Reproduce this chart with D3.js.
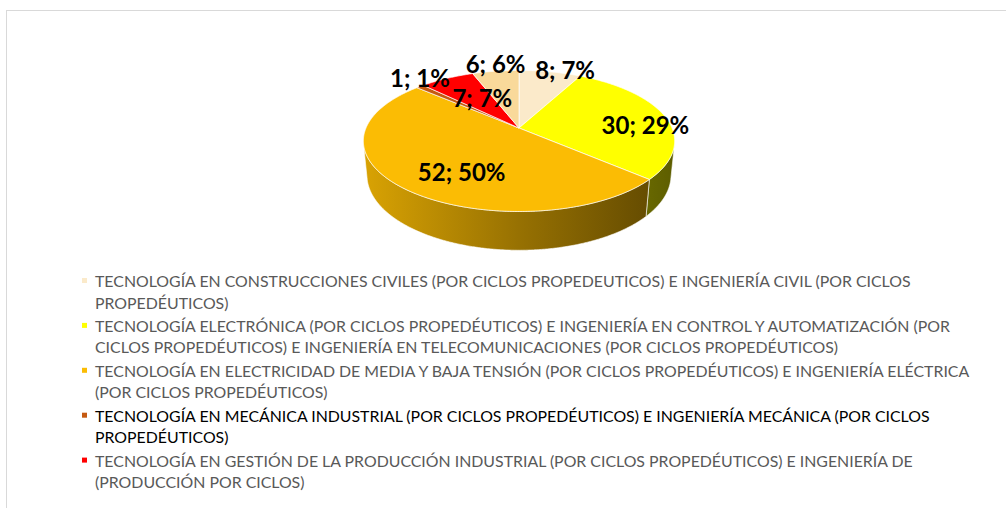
<!DOCTYPE html>
<html><head><meta charset="utf-8">
<script src="https://cdn.jsdelivr.net/npm/d3@7"></script>
<style>html,body{margin:0;padding:0;background:#fff;overflow:hidden}</style>
</head><body>
<svg id="chart" width="1006" height="508"></svg>
<script>
// ---------- DATA ----------
const categories = [
  ["TECNOLOGÍA EN CONSTRUCCIONES CIVILES (POR CICLOS PROPEDEUTICOS) E INGENIERÍA CIVIL (POR CICLOS", "PROPEDÉUTICOS)"],
  ["TECNOLOGÍA ELECTRÓNICA (POR CICLOS PROPEDÉUTICOS) E INGENIERÍA EN CONTROL Y AUTOMATIZACIÓN (POR", "CICLOS PROPEDÉUTICOS) E INGENIERÍA EN TELECOMUNICACIONES (POR CICLOS PROPEDÉUTICOS)"],
  ["TECNOLOGÍA EN ELECTRICIDAD DE MEDIA Y BAJA TENSIÓN (POR CICLOS PROPEDÉUTICOS) E INGENIERÍA ELÉCTRICA", "(POR CICLOS PROPEDÉUTICOS)"],
  ["TECNOLOGÍA EN MECÁNICA INDUSTRIAL (POR CICLOS PROPEDÉUTICOS) E INGENIERÍA MECÁNICA (POR CICLOS", "PROPEDÉUTICOS)"],
  ["TECNOLOGÍA EN GESTIÓN DE LA PRODUCCIÓN INDUSTRIAL (POR CICLOS PROPEDÉUTICOS) E INGENIERÍA DE", "(PRODUCCIÓN POR CICLOS)"],
  [] // sixth slice: not listed in the legend
];
const values = [8, 30, 52, 1, 7, 6];
const percentLabels = [7, 29, 50, 1, 7, 6];
const colors = ["#FBEACA", "#FFFF00", "#FBBC04", "#C55A11", "#FF0000", "#F9D99A"];
const legendTextColors = ["#595959", "#595959", "#595959", "#000000", "#595959", "#595959"];

// ---------- LAYOUT ----------
const svg = d3.select("#chart");
const defs = svg.append("defs");
svg.append("rect").attr("x", 6.5).attr("y", 10.5).attr("width", 1200).attr("height", 600)
  .attr("fill", "#fff").attr("stroke", "#d9d9d9").attr("stroke-width", 1);

const cx = 519, cy = 128, R = 153, D = 4.88, tilt = Math.asin(0.4456), thick = 0.2515;
const sinT = Math.sin(tilt), cosT = Math.cos(tilt);
function project(theta, k, Y) {
  const X = k * Math.sin(theta), Z = -k * Math.cos(theta);
  const yc = Y * cosT - Z * sinT;
  const depth = D - (Y * sinT + Z * cosT);
  const f = D / depth;
  return [cx + R * X * f, cy - R * yc * f];
}
const pie = d3.pie().sort(null).value(d => d).startAngle(0).endAngle(2 * Math.PI);
const arcs = pie(values);
const line = d3.line().curve(d3.curveLinear);
const step = Math.PI / 360;
function rimPoints(a0, a1, Y) {
  const pts = [];
  const n = Math.max(2, Math.ceil((a1 - a0) / step));
  for (let i = 0; i <= n; i++) pts.push(project(a0 + (a1 - a0) * i / n, 1, Y));
  return pts;
}
function scaleColor(c, f) {
  const r = d3.rgb(c);
  return d3.rgb(r.r * f, r.g * f, r.b * f).formatHex();
}

// side gradients
arcs.forEach((a, i) => {
  const g = defs.append("linearGradient").attr("id", "side" + i)
    .attr("gradientUnits", "userSpaceOnUse")
    .attr("x1", cx - R).attr("y1", 0).attr("x2", cx + R).attr("y2", 0);
  g.append("stop").attr("offset", 0).attr("stop-color", scaleColor(colors[i], 0.86));
  g.append("stop").attr("offset", 0.5).attr("stop-color", scaleColor(colors[i], 0.6));
  g.append("stop").attr("offset", 1).attr("stop-color", scaleColor(colors[i], 0.37));
});

// sides (visible outer wall only)
const thMin = Math.acos(-1 / (D * cosT)), thMax = 2 * Math.PI - thMin;
const sideG = svg.append("g");
arcs.forEach((a, i) => {
  const a0 = Math.max(a.startAngle, thMin), a1 = Math.min(a.endAngle, thMax);
  if (a1 <= a0) return;
  const pts = rimPoints(a0, a1, 0).concat(rimPoints(a0, a1, -thick).reverse());
  sideG.append("path").attr("d", line(pts) + "Z")
    .attr("fill", `url(#side${i})`).attr("stroke", "#fff").attr("stroke-width", 0.7)
    .attr("stroke-opacity", 0.85).attr("stroke-linejoin", "round");
});

// tops
const topG = svg.append("g");
const apex = project(0, 0, 0);
arcs.forEach((a, i) => {
  const pts = [apex].concat(rimPoints(a.startAngle, a.endAngle, 0));
  topG.append("path").attr("d", line(pts) + "Z")
    .attr("fill", colors[i]).attr("stroke", "#fff").attr("stroke-width", 0.8)
    .attr("stroke-opacity", 0.85).attr("stroke-linejoin", "round");
});

// data labels
const labelRadius = [1, 0.85, 0.6, 1, 0.6, 1];
const labelNudge = [[15, -1], [2, 8], [9, 11], [0, -8], [9, 2], [0, -7]];
const labG = svg.append("g");
arcs.forEach((a, i) => {
  const mid = (a.startAngle + a.endAngle) / 2;
  const p = project(mid, labelRadius[i], 0);
  labG.append("text")
    .attr("x", p[0] + labelNudge[i][0]).attr("y", p[1] + labelNudge[i][1])
    .attr("dy", "0.36em").attr("text-anchor", "middle")
    .attr("font-family", "Lato, 'Liberation Sans', sans-serif").attr("font-weight", 700)
    .attr("font-size", 24).attr("fill", "#000")
    .text(`${values[i]}; ${percentLabels[i]}%`);
});

// legend
const legFont = "Lato, 'Open Sans', sans-serif";
const probe = svg.append("text").attr("font-family", legFont).attr("font-size", 20);
let maxW = 0;
categories.forEach(ls => ls.forEach(t => { probe.text(t); maxW = Math.max(maxW, probe.node().getComputedTextLength()); }));
probe.remove();
const legSize = 20 * 875 / maxW;
const legX = 95, legTop = 287, lineH = 21.5, itemStep = 44.9;
const legG = svg.append("g");
let k = 0;
categories.forEach((ls, i) => {
  if (!ls.length) return;
  const base = legTop + k * itemStep;
  legG.append("rect").attr("x", 82).attr("y", base - 9).attr("width", 5).attr("height", 5)
    .attr("fill", colors[i]);
  ls.forEach((t, j) => {
    legG.append("text").attr("x", legX).attr("y", base + j * lineH)
      .attr("font-family", legFont).attr("font-size", legSize)
      .attr("fill", legendTextColors[i]).text(t);
  });
  k++;
});
</script>
</body></html>
